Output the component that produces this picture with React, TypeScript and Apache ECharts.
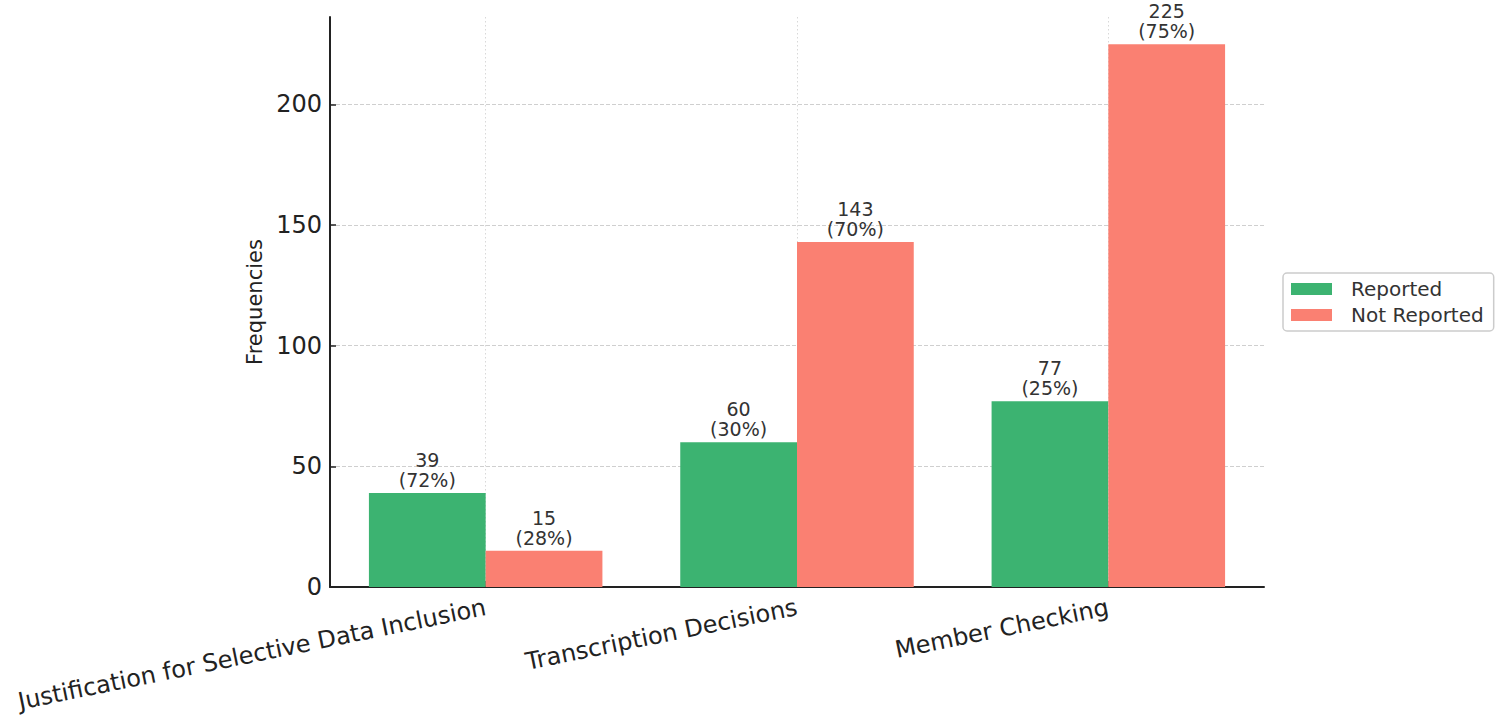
import React, { useEffect, useRef } from "react";
import * as echarts from "echarts";

const categories = [
  "Justification for Selective Data Inclusion",
  "Transcription Decisions",
  "Member Checking",
];
const seriesNames = ["Reported", "Not Reported"];
const reported = [39, 60, 77];
const notReported = [15, 143, 225];
const reportedPct = [72, 30, 25];
const notReportedPct = [28, 70, 75];
const yTicks = [0, 50, 100, 150, 200];
const yMax = 236.25;

const FONT = "DejaVu Sans";
const GREEN = "#3CB371";
const SALMON = "#FA8072";

export default function App() {
  const ref = useRef<HTMLDivElement>(null);
  useEffect(() => {
    if (!ref.current) return;
    const chart = echarts.init(ref.current, null, { renderer: "svg" });
    const gridPositions = Array.from({ length: categories.length * 2 + 1 }, (_, i) => String(i));
    const labelFor = (pcts: number[]) => (p: any) => `${p.value}\n(${pcts[p.dataIndex]}%)`;
    const barLabel = (pcts: number[]) => ({
      show: true,
      position: "top",
      distance: 3,
      formatter: labelFor(pcts),
      fontFamily: FONT,
      fontSize: 19,
      lineHeight: 20,
      color: "#333333",
      align: "center",
    });
    const option: any = {
      animation: false,
      backgroundColor: "#ffffff",
      textStyle: { fontFamily: FONT },
      grid: {
        left: 330,
        right: 236,
        top: 17,
        bottom: 138,
        containLabel: false,
        outerBoundsMode: "none",
      },
      legend: {
        orient: "vertical",
        left: 1283,
        top: 273,
        data: seriesNames,
        itemWidth: 41,
        itemHeight: 12,
        itemGap: 6,
        padding: [6, 10, 6, 8],
        borderColor: "#cccccc",
        borderWidth: 1.5,
        borderRadius: 4,
        backgroundColor: "#ffffff",
        icon: "rect",
        textStyle: {
          fontFamily: FONT,
          fontSize: 20,
          color: "#333333",
          lineHeight: 20,
          padding: [0, 0, 0, 14],
        },
      },
      xAxis: [
        {
          type: "category",
          data: categories,
          position: "bottom",
          axisLine: { show: true, lineStyle: { color: "#222222", width: 2 } },
          axisTick: {
            show: true,
            inside: true,
            alignWithLabel: true,
            length: 6,
            lineStyle: { color: "#222222", width: 1.5 },
          },
          axisLabel: {
            rotate: 11.5,
            margin: 20,
            fontSize: 24,
            fontFamily: FONT,
            color: "#222222",
            interval: 0,
          },
          splitLine: { show: false },
        },
        {
          type: "category",
          data: gridPositions,
          position: "top",
          boundaryGap: false,
          axisLine: { show: false },
          axisTick: { show: false },
          axisLabel: { show: false },
          splitLine: {
            show: true,
            interval: (i: number) => i % 2 === 1,
            lineStyle: { color: "#d8d8d8", type: [1.5, 2.5], width: 1 },
          },
        },
      ],
      yAxis: {
        type: "value",
        min: 0,
        max: yMax,
        interval: 50,
        name: "Frequencies",
        nameLocation: "middle",
        nameGap: 64,
        nameTextStyle: { fontFamily: FONT, fontSize: 21, color: "#222222" },
        axisLine: { show: true, lineStyle: { color: "#222222", width: 2 } },
        axisTick: {
          show: true,
          inside: true,
          length: 6,
          customValues: yTicks,
          lineStyle: { color: "#222222", width: 1.5 },
        },
        axisLabel: {
          margin: 8,
          fontSize: 24,
          fontFamily: FONT,
          color: "#222222",
          customValues: yTicks,
        },
        splitLine: {
          show: true,
          showMinLine: false,
          lineStyle: { color: "#cfcfcf", type: [4, 2], width: 1 },
        },
      },
      series: [
        {
          name: seriesNames[0],
          type: "bar",
          xAxisIndex: 0,
          data: reported,
          barWidth: "37.5%",
          barGap: "0%",
          z: 3,
          itemStyle: { color: GREEN },
          label: barLabel(reportedPct),
        },
        {
          name: seriesNames[1],
          type: "bar",
          xAxisIndex: 0,
          data: notReported,
          barWidth: "37.5%",
          barGap: "0%",
          z: 3,
          itemStyle: { color: SALMON },
          label: barLabel(notReportedPct),
        },
      ],
    };
    chart.setOption(option);
    return () => chart.dispose();
  }, []);
  return (
    <div
      ref={ref}
      style={{ position: "fixed", left: 0, top: 0, width: 1500, height: 725, background: "#fff" }}
    />
  );
}
